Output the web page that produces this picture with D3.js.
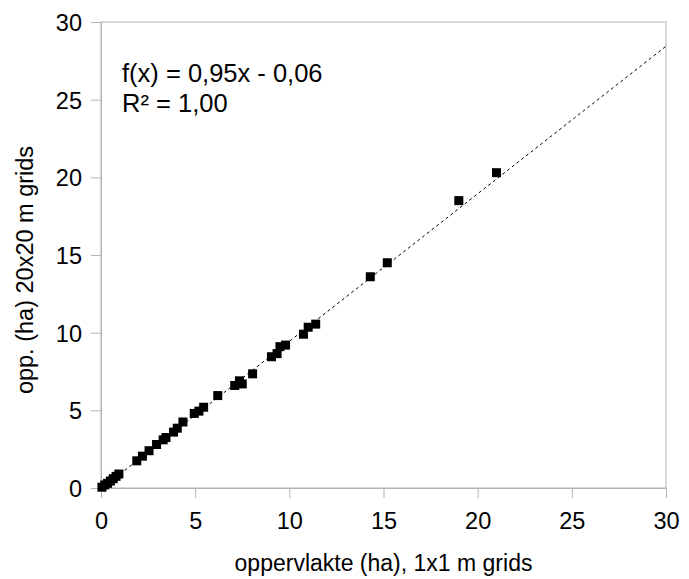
<!DOCTYPE html>
<html>
<head>
<meta charset="utf-8">
<script src="https://cdn.jsdelivr.net/npm/d3@7"></script>
<style>
  html, body { margin: 0; padding: 0; background: #fff; }
  svg text { font-family: "Liberation Sans", Arial, sans-serif; fill: #000; }
</style>
</head>
<body>
<svg id="chart" width="689" height="579"></svg>
<script>
// Area per polygon: 1x1 m grid (x) versus 20x20 m grid (y), in hectares
const areaFine = [0.05, 0.2, 0.35, 0.5, 0.65, 0.8, 0.95, 1.9, 2.2, 2.55, 2.95, 3.3, 3.45, 3.85, 4.05, 4.35,
  4.95, 5.2, 5.45, 6.2, 7.1, 7.35, 7.5, 8.05, 9.05, 9.35, 9.5, 9.8, 10.75, 11.0, 11.4, 14.3, 15.2, 19.0, 21.0];
const areaCoarse = [0.05, 0.2, 0.3, 0.45, 0.6, 0.75, 0.9, 1.75, 2.05, 2.4, 2.8, 3.1, 3.25, 3.6, 3.85, 4.25,
  4.8, 4.95, 5.2, 5.95, 6.6, 6.9, 6.7, 7.35, 8.45, 8.65, 9.1, 9.2, 9.9, 10.35, 10.55, 13.6, 14.5, 18.5, 20.3];
const xTicks = [0, 5, 10, 15, 20, 25, 30];
const yTicks = [0, 5, 10, 15, 20, 25, 30];
const trendSlope = 0.95;
const trendIntercept = -0.06;
const trendLabel = "f(x) = 0,95x - 0,06";
const r2Label = "R² = 1,00";

const svg = d3.select("#chart");
const plotL = 101, plotR = 666, plotT = 22, plotB = 488;
const x = d3.scaleLinear().domain([0, 30]).range([plotL, plotR]);
const y = d3.scaleLinear().domain([0, 30]).range([plotB, plotT]);
const grey = "#b3b3b3";

// plot frame
svg.append("rect")
  .attr("x", plotL).attr("y", plotT)
  .attr("width", plotR - plotL).attr("height", plotB - plotT)
  .attr("fill", "none").attr("stroke", grey).attr("stroke-width", 1);

// axes
const xAxis = svg.append("g").attr("transform", `translate(0,${plotB})`)
  .call(d3.axisBottom(x).tickValues(xTicks).tickSize(10).tickPadding(14).tickFormat(d3.format("d")));
const yAxis = svg.append("g").attr("transform", `translate(${plotL},0)`)
  .call(d3.axisLeft(y).tickValues(yTicks).tickSize(10).tickPadding(9).tickFormat(d3.format("d")));
[xAxis, yAxis].forEach(g => {
  g.select(".domain").attr("stroke", grey);
  g.selectAll(".tick line").attr("stroke", grey);
  g.selectAll(".tick text").style("font-size", "23.5px").attr("fill", "#000")
    .style("font-family", "'Liberation Sans', Arial, sans-serif");
});
yAxis.selectAll(".tick text").attr("dy", "0.36em");

// linear trendline
const trend = d3.line().x(d => x(d)).y(d => y(trendSlope * d + trendIntercept));
svg.append("path")
  .datum([0, 30])
  .attr("d", trend)
  .attr("fill", "none")
  .attr("stroke", "#000")
  .attr("stroke-width", 1)
  .attr("stroke-dasharray", "3,3");

// data points
const pts = areaFine.map((v, i) => [v, areaCoarse[i]]);
const s = 9;
svg.append("g").selectAll("rect").data(pts).join("rect")
  .attr("x", d => x(d[0]) - s / 2)
  .attr("y", d => y(d[1]) - s / 2)
  .attr("width", s).attr("height", s)
  .attr("fill", "#000");

// regression text
svg.append("text").attr("x", 122).attr("y", 82).style("font-size", "25.5px").text(trendLabel);
svg.append("text").attr("x", 122).attr("y", 112).style("font-size", "25.5px").text(r2Label);

// axis titles
svg.append("text")
  .attr("x", (plotL + plotR) / 2).attr("y", 571)
  .attr("text-anchor", "middle").style("font-size", "23px")
  .text("oppervlakte (ha), 1x1 m grids");
svg.append("text")
  .attr("transform", "translate(33,270) rotate(-90)")
  .attr("text-anchor", "middle").style("font-size", "23.5px")
  .text("opp. (ha) 20x20 m grids");
</script>
</body>
</html>
